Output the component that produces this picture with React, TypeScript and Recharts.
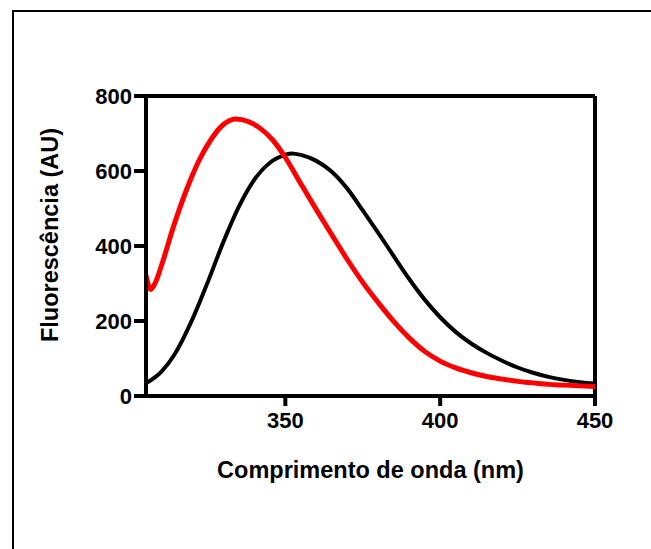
import { LineChart, Line, XAxis, YAxis, ReferenceLine, Label } from "recharts";

// black spectrum
const blackWl = [305, 310, 314, 320, 325, 330, 335, 340, 345, 350, 352, 355, 360, 365, 370, 375, 380, 385, 390, 395, 400, 405, 410, 415, 420, 425, 430, 435, 440, 445, 450];
const blackVals = [34, 65, 108, 205, 305, 411, 505, 577, 622, 643, 647, 643, 627, 598, 553, 495, 435, 373, 312, 257, 210, 171, 140, 115, 94, 76, 62, 51, 43, 37, 33];

// red spectrum
const redWl = [305, 306.5, 308, 310, 314, 318, 322, 326, 330, 334, 338, 342, 346, 350, 355, 360, 365, 370, 375, 380, 385, 390, 395, 400, 405, 410, 415, 420, 425, 430, 435, 440, 445, 450];
const redVals = [322, 284, 302, 348, 455, 548, 626, 684, 724, 739, 732, 713, 682, 636, 566, 497, 430, 364, 303, 249, 199, 155, 119, 93, 75, 62, 52, 45, 39, 35, 31, 29, 27, 25];

const xTicks = [350, 400, 450];
const yTicks = [0, 200, 400, 600, 800];

const blackData = blackWl.map((wl, i) => ({ wl, v: blackVals[i] }));
const redData = redWl.map((wl, i) => ({ wl, v: redVals[i] }));

const font = { fontFamily: "'Liberation Sans', Arial, sans-serif", fontWeight: "bold" as const, fontSize: 22, fill: "#000" };
const titleFont = { ...font, fontSize: 23.5 };

export default function App() {
    return (
        <div style={{ position: "relative", width: 651, height: 549, overflow: "hidden", background: "#fff" }}>
            <style>{"body{margin:0;overflow:hidden}"}</style>
            <div style={{ position: "absolute", left: 12, top: 10, width: 700, height: 600, border: "2px solid #000" }} />
            <div style={{ position: "absolute", left: 0, top: 0 }}>
                <LineChart width={651} height={549} margin={{ top: 96, right: 56, bottom: 93, left: 86 }}>
                    <XAxis
                        dataKey="wl"
                        type="number"
                        domain={[305, 450]}
                        ticks={xTicks}
                        allowDataOverflow={true}
                        height={60}
                        tickSize={10}
                        tickMargin={6}
                        axisLine={{ stroke: "#000", strokeWidth: 4 }}
                        tickLine={{ stroke: "#000", strokeWidth: 4 }}
                        tick={font}
                    >
                        <Label
                            content={() => (
                                <text x={370.5} y={478} textAnchor="middle" style={titleFont}>
                                    Comprimento de onda (nm)
                                </text>
                            )}
                        />
                    </XAxis>
                    <YAxis
                        type="number"
                        domain={[0, 800]}
                        ticks={yTicks}
                        width={60}
                        tickSize={12}
                        tickMargin={2}
                        axisLine={{ stroke: "#000", strokeWidth: 4 }}
                        tickLine={{ stroke: "#000", strokeWidth: 4 }}
                        tick={font}
                    >
                        <Label
                            content={() => (
                                <text x={50} y={235} transform="rotate(-90 50 235)" textAnchor="middle" dominantBaseline="central" style={titleFont}>
                                    Fluorescência (AU)
                                </text>
                            )}
                        />
                    </YAxis>
                    <ReferenceLine y={800} stroke="#000" strokeWidth={4} />
                    <ReferenceLine x={450} stroke="#000" strokeWidth={4} />
                    <Line data={blackData} dataKey="v" type="monotone" stroke="#000" strokeWidth={4} dot={false} isAnimationActive={false} />
                    <Line data={redData} dataKey="v" type="monotone" stroke="#ff0000" strokeWidth={5} dot={false} isAnimationActive={false} />
                </LineChart>
            </div>
        </div>
    );
}
